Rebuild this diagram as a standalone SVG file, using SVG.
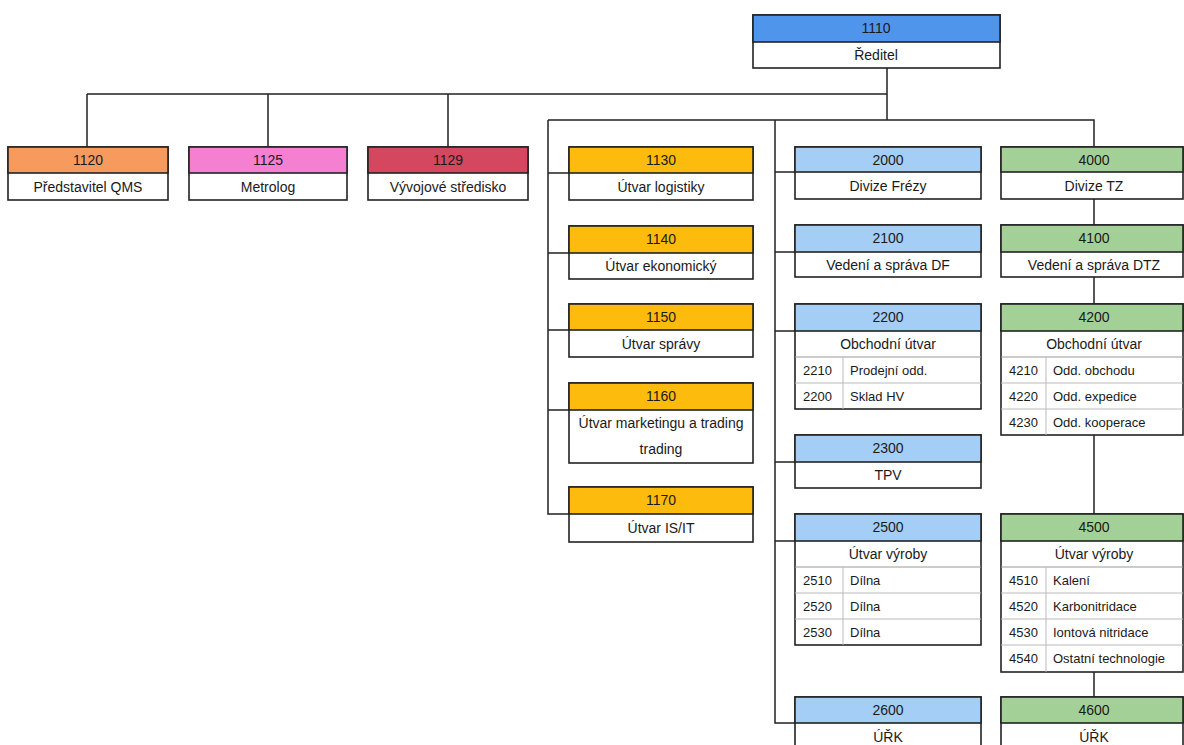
<svg xmlns="http://www.w3.org/2000/svg" width="1184" height="745" viewBox="0 0 1184 745">
<style>
.bx{fill:#fff;stroke:#222;stroke-width:1.6}
.hd{stroke:#222;stroke-width:1.6}
.sep{stroke:#bbb;stroke-width:1}
.sep2{stroke:#999;stroke-width:1}
.c{fill:none;stroke:#222;stroke-width:1.5}
text{font-family:"Liberation Sans",Arial,sans-serif;font-size:14px;fill:#1a1a1a}
.m{text-anchor:middle}
.s{font-size:13px}
.dir{fill:#4f95ec}.qms{fill:#f79a5e}.met{fill:#f580d2}.vyv{fill:#d5475f}
.or{fill:#fdbb0d}.bl{fill:#a4cef5}.gr{fill:#a3d096}
</style>
<rect width="1184" height="745" fill="#fff"/>
<g id="connectors">
<path class="c" d="M887 68V120M87 94H887M87 94V147M268 94V147M448 94V147"/>
<path class="c" d="M548 120H1094V147"/>
<path class="c" d="M548 120V514H569M548 173H569M548 253H569M548 330H569M548 410H569"/>
<path class="c" d="M775 120V723H795M775 172H795M775 252H795M775 331H795M775 462H795M775 541H795"/>
<path class="c" d="M1094 199V225M1094 277V304M1094 435V514M1094 672V697"/>
</g>
<g id="n1110"><rect class="bx" x="753" y="15" width="247" height="53"/><rect class="dir hd" x="753" y="15" width="247" height="27"/><text class="m" x="876" y="33">1110</text><text class="m" x="876" y="60">Ředitel</text></g>
<g id="n1120"><rect class="bx" x="8" y="147" width="160" height="53"/><rect class="qms hd" x="8" y="147" width="160" height="26"/><text class="m" x="88" y="165">1120</text><text class="m" x="88" y="192">Představitel QMS</text></g>
<g id="n1125"><rect class="bx" x="189" y="147" width="158" height="53"/><rect class="met hd" x="189" y="147" width="158" height="26"/><text class="m" x="268" y="165">1125</text><text class="m" x="268" y="192">Metrolog</text></g>
<g id="n1129"><rect class="bx" x="368" y="147" width="160" height="53"/><rect class="vyv hd" x="368" y="147" width="160" height="26"/><text class="m" x="448" y="165">1129</text><text class="m" x="448" y="192">Vývojové středisko</text></g>
<g id="n1130"><rect class="bx" x="569" y="147" width="184" height="53"/><rect class="or hd" x="569" y="147" width="184" height="26"/><text class="m" x="661" y="165">1130</text><text class="m" x="661" y="192">Útvar logistiky</text></g>
<g id="n1140"><rect class="bx" x="569" y="226" width="184" height="53"/><rect class="or hd" x="569" y="226" width="184" height="27"/><text class="m" x="661" y="244">1140</text><text class="m" x="661" y="271">Útvar ekonomický</text></g>
<g id="n1150"><rect class="bx" x="569" y="304" width="184" height="53"/><rect class="or hd" x="569" y="304" width="184" height="26"/><text class="m" x="661" y="322">1150</text><text class="m" x="661" y="349">Útvar správy</text></g>
<g id="n1160"><rect class="bx" x="569" y="383" width="184" height="80"/><rect class="or hd" x="569" y="383" width="184" height="27"/><text class="m" x="661" y="401">1160</text><text class="m" x="661" y="428">Útvar marketingu a trading</text><text class="m" x="661" y="454">trading</text></g>
<g id="n1170"><rect class="bx" x="569" y="487" width="184" height="55"/><rect class="or hd" x="569" y="487" width="184" height="27"/><text class="m" x="661" y="505">1170</text><text class="m" x="661" y="533">Útvar IS/IT</text></g>
<g id="n2000"><rect class="bx" x="795" y="147" width="186" height="52"/><rect class="bl hd" x="795" y="147" width="186" height="25"/><text class="m" x="888" y="165">2000</text><text class="m" x="888" y="191">Divize Frézy</text></g>
<g id="n2100"><rect class="bx" x="795" y="225" width="186" height="52"/><rect class="bl hd" x="795" y="225" width="186" height="27"/><text class="m" x="888" y="243">2100</text><text class="m" x="888" y="270">Vedení a správa DF</text></g>
<g id="n2200"><rect class="bx" x="795" y="304" width="186" height="105"/><rect class="bl hd" x="795" y="304" width="186" height="27"/><text class="m" x="888" y="322">2200</text><text class="m" x="888" y="349">Obchodní útvar</text>
<path class="sep2" d="M795 357H981"/><path class="sep" d="M795 383H981M843 357V409"/>
<text class="s" x="803" y="375">2210</text><text class="s" x="850" y="375">Prodejní odd.</text>
<text class="s" x="803" y="401">2200</text><text class="s" x="850" y="401">Sklad HV</text></g>
<g id="n2300"><rect class="bx" x="795" y="435" width="186" height="53"/><rect class="bl hd" x="795" y="435" width="186" height="27"/><text class="m" x="888" y="453">2300</text><text class="m" x="888" y="480">TPV</text></g>
<g id="n2500"><rect class="bx" x="795" y="514" width="186" height="131"/><rect class="bl hd" x="795" y="514" width="186" height="27"/><text class="m" x="888" y="532">2500</text><text class="m" x="888" y="559">Útvar výroby</text>
<path class="sep2" d="M795 567H981"/><path class="sep" d="M795 593H981M795 619H981M843 567V645"/>
<text class="s" x="803" y="585">2510</text><text class="s" x="850" y="585">Dílna</text>
<text class="s" x="803" y="611">2520</text><text class="s" x="850" y="611">Dílna</text>
<text class="s" x="803" y="637">2530</text><text class="s" x="850" y="637">Dílna</text></g>
<g id="n2600"><rect class="bx" x="795" y="697" width="186" height="60"/><rect class="bl hd" x="795" y="697" width="186" height="26"/><text class="m" x="888" y="715">2600</text><text class="m" x="888" y="742">ÚŘK</text></g>
<g id="n4000"><rect class="bx" x="1001" y="147" width="182" height="52"/><rect class="gr hd" x="1001" y="147" width="182" height="25"/><text class="m" x="1094" y="165">4000</text><text class="m" x="1094" y="191">Divize TZ</text></g>
<g id="n4100"><rect class="bx" x="1001" y="225" width="182" height="52"/><rect class="gr hd" x="1001" y="225" width="182" height="27"/><text class="m" x="1094" y="243">4100</text><text class="m" x="1094" y="270">Vedení a správa DTZ</text></g>
<g id="n4200"><rect class="bx" x="1001" y="304" width="182" height="131"/><rect class="gr hd" x="1001" y="304" width="182" height="27"/><text class="m" x="1094" y="322">4200</text><text class="m" x="1094" y="349">Obchodní útvar</text>
<path class="sep2" d="M1001 357H1183"/><path class="sep" d="M1001 383H1183M1001 409H1183M1046 357V435"/>
<text class="s" x="1009" y="375">4210</text><text class="s" x="1053" y="375">Odd. obchodu</text>
<text class="s" x="1009" y="401">4220</text><text class="s" x="1053" y="401">Odd. expedice</text>
<text class="s" x="1009" y="427">4230</text><text class="s" x="1053" y="427">Odd. kooperace</text></g>
<g id="n4500"><rect class="bx" x="1001" y="514" width="182" height="158"/><rect class="gr hd" x="1001" y="514" width="182" height="27"/><text class="m" x="1094" y="532">4500</text><text class="m" x="1094" y="559">Útvar výroby</text>
<path class="sep2" d="M1001 567H1183"/><path class="sep" d="M1001 593H1183M1001 619H1183M1001 645H1183M1046 567V672"/>
<text class="s" x="1009" y="585">4510</text><text class="s" x="1053" y="585">Kalení</text>
<text class="s" x="1009" y="611">4520</text><text class="s" x="1053" y="611">Karbonitridace</text>
<text class="s" x="1009" y="637">4530</text><text class="s" x="1053" y="637">Iontová nitridace</text>
<text class="s" x="1009" y="663">4540</text><text class="s" x="1053" y="663">Ostatní technologie</text></g>
<g id="n4600"><rect class="bx" x="1001" y="697" width="182" height="60"/><rect class="gr hd" x="1001" y="697" width="182" height="26"/><text class="m" x="1094" y="715">4600</text><text class="m" x="1094" y="742">ÚŘK</text></g>
</svg>
